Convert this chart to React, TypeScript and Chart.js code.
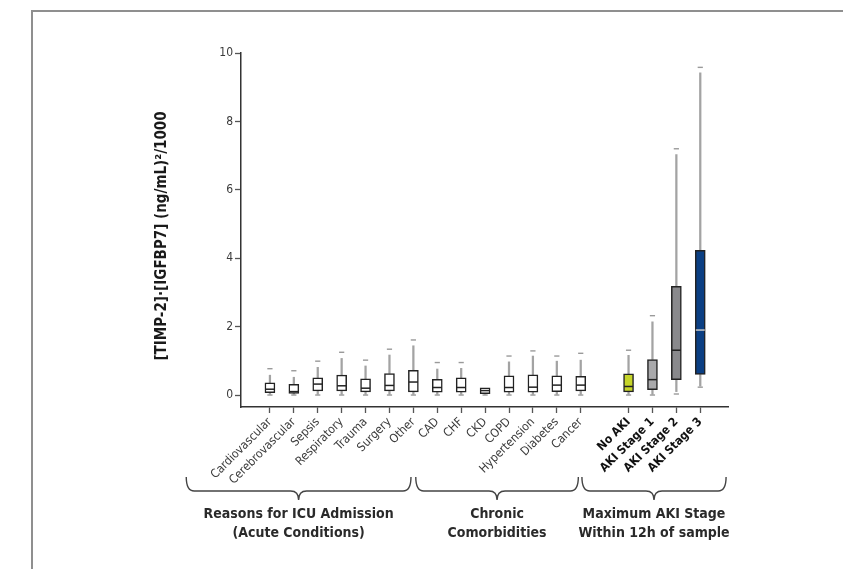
import React, { useRef, useEffect } from 'react';
import Chart from 'chart.js/auto';

// categories along the x axis, split into the three groups
const acuteConditions = ['Cardiovascular', 'Cerebrovascular', 'Sepsis', 'Respiratory', 'Trauma', 'Surgery', 'Other'];
const comorbidities = ['CAD', 'CHF', 'CKD', 'COPD', 'Hypertension', 'Diabetes', 'Cancer'];
const akiStages = ['No AKI', 'AKI Stage 1', 'AKI Stage 2', 'AKI Stage 3'];

// box statistics, one value per category (acute, comorbidity, AKI)
const q1 = [0.07, 0.05, 0.12, 0.12, 0.09, 0.12, 0.09, 0.08, 0.08, 0.04, 0.08, 0.08, 0.1, 0.12, 0.09, 0.16, 0.45, 0.6];
const median = [0.17, 0.1, 0.32, 0.27, 0.2, 0.28, 0.38, 0.22, 0.22, 0.13, 0.22, 0.23, 0.29, 0.29, 0.25, 0.45, 1.31, 1.9];
const q3 = [0.36, 0.31, 0.5, 0.58, 0.47, 0.63, 0.72, 0.46, 0.5, 0.21, 0.56, 0.59, 0.56, 0.55, 0.62, 1.04, 3.18, 4.23];
const whiskerHigh = [0.58, 0.52, 0.81, 1.07, 0.85, 1.17, 1.44, 0.76, 0.78, null, 0.97, 1.14, 0.99, 1.02, 1.16, 2.14, 7.03, 9.42];
const capHigh = [0.77, 0.71, 0.99, 1.25, 1.02, 1.34, 1.61, 0.95, 0.95, null, 1.14, 1.29, 1.14, 1.22, 1.31, 2.32, 7.2, 9.58];
const whiskerLow = [0.02, 0.02, 0.02, 0.02, 0.02, 0.02, 0.02, 0.02, 0.02, 0.02, 0.02, 0.02, 0.02, 0.02, 0.02, 0.02, 0.1, 0.26];
const capLow = [0, 0, 0, 0, 0, 0, 0, 0, 0, 0, 0, 0, 0, 0, 0, 0, 0.03, 0.23];

const yTicks = [0, 2, 4, 6, 8, 10];
const yTitle = '[TIMP-2]·[IGFBP7] (ng/mL)²/1000';
const groupTitles = [
  ['Reasons for ICU Admission', '(Acute Conditions)'],
  ['Chronic', 'Comorbidities'],
  ['Maximum AKI Stage', 'Within 12h of sample'],
];

const FONT = "'Liberation Sans Narrow', 'DejaVu Sans Condensed', 'Roboto', sans-serif";

const labels = [...acuteConditions, ...comorbidities, ...akiStages];
// one empty slot between the comorbidities and the AKI stages
const xPos = labels.map((_, i) => (i < 14 ? i : i + 1));
const akiStart = 15;

const boxFill = [...Array(14).fill('#ffffff'), '#c6d52a', '#a9a9ab', '#89898c', '#0b3f83'];
const medianColor = [...Array(17).fill('#222222'), '#c8c8c8'];

// brace extents in x-axis units
const braces: [number, number][] = [
  [-3.5, 5.9],
  [6.1, 12.9],
  [13.05, 19.08],
];

const overlay = {
  id: 'overlay',
  afterDraw(chart: Chart) {
    const { ctx, chartArea, scales } = chart;
    const x = scales.x;
    const b = chartArea.bottom;
    ctx.save();
    // y-axis title
    ctx.translate(162, 236);
    ctx.rotate(-Math.PI / 2);
    ctx.fillStyle = '#1a1a1a';
    ctx.font = `bold 15px ${FONT}`;
    ctx.textAlign = 'center';
    ctx.textBaseline = 'middle';
    ctx.fillText(yTitle, 0, 0);
    ctx.restore();

    ctx.save();
    ctx.strokeStyle = '#444';
    ctx.lineWidth = 1.4;
    braces.forEach(([s, e], gi) => {
      const x1 = x.getPixelForValue(s);
      const x2 = x.getPixelForValue(e);
      const cx = (x1 + x2) / 2;
      const top = b + 70;
      const mid = b + 84;
      const tip = b + 93;
      const r = 8;
      ctx.beginPath();
      ctx.moveTo(x1, top);
      ctx.quadraticCurveTo(x1, mid, x1 + r, mid);
      ctx.lineTo(cx - r, mid);
      ctx.quadraticCurveTo(cx, mid, cx, tip);
      ctx.quadraticCurveTo(cx, mid, cx + r, mid);
      ctx.lineTo(x2 - r, mid);
      ctx.quadraticCurveTo(x2, mid, x2, top);
      ctx.stroke();

      ctx.fillStyle = '#2a2a2a';
      ctx.font = `bold 14px ${FONT}`;
      ctx.textAlign = 'center';
      ctx.textBaseline = 'middle';
      ctx.fillText(groupTitles[gi][0], cx, b + 107);
      ctx.fillText(groupTitles[gi][1], cx, b + 126);
    });
    ctx.restore();
  },
};

const App: React.FC = () => {
  const chartRef = useRef<HTMLCanvasElement>(null);
  const chartInstanceRef = useRef<Chart | null>(null);

  useEffect(() => {
    if (!chartRef.current) return;
    const ctx = chartRef.current.getContext('2d');
    if (!ctx) return;
    if (chartInstanceRef.current) chartInstanceRef.current.destroy();

    const pts = (vals: (number | null)[]) =>
      vals.map((v, i) => (v === null ? null : { x: xPos[i], y: v })).filter((p) => p !== null);
    const ranges = (lo: (number | null)[], hi: (number | null)[]) =>
      lo.map((v, i) => (v === null || hi[i] === null ? null : { x: xPos[i], y: [v, hi[i]] })).filter((p) => p !== null);

    chartInstanceRef.current = new Chart(ctx, {
      type: 'bar',
      data: {
        datasets: [
          {
            type: 'bar',
            data: ranges(q3, whiskerHigh) as any,
            backgroundColor: '#a3a3a3',
            borderWidth: 0,
            barThickness: 1.6,
            grouped: false,
            order: 4,
          },
          {
            type: 'bar',
            data: ranges(whiskerLow, q1) as any,
            backgroundColor: '#a3a3a3',
            borderWidth: 0,
            barThickness: 1.6,
            grouped: false,
            order: 4,
          },
          {
            type: 'bar',
            data: ranges(q1, q3) as any,
            backgroundColor: boxFill,
            borderColor: '#222',
            borderWidth: 1.5,
            borderSkipped: false,
            barThickness: 10,
            grouped: false,
            order: 3,
          },
          {
            type: 'scatter',
            data: pts(median) as any,
            pointStyle: 'line',
            pointRadius: 4.5,
            pointBorderColor: medianColor,
            pointBorderWidth: 1.5,
            order: 1,
          },
          {
            type: 'scatter',
            data: [...pts(capHigh), ...pts(capLow)] as any,
            pointStyle: 'line',
            pointRadius: 2.6,
            pointBorderColor: '#9a9a9a',
            pointBorderWidth: 1.4,
            order: 2,
          },
        ],
      },
      options: {
        animation: false,
        responsive: true,
        maintainAspectRatio: false,
        layout: { padding: { left: 0, top: 53, right: 115, bottom: 0 } },
        plugins: { legend: { display: false }, tooltip: { enabled: false } },
        scales: {
          x: {
            type: 'linear',
            min: -1.21,
            max: 19.16,
            offset: false,
            afterBuildTicks: (s: any) => {
              s.ticks = xPos.map((v) => ({ value: v }));
            },
            afterFit: (s: any) => {
              s.height = 162;
            },
            grid: { drawOnChartArea: false, drawTicks: true, tickLength: 6, tickColor: '#555', tickWidth: 1.3, offset: false },
            border: { color: '#333', width: 1.5 },
            ticks: {
              autoSkip: false,
              minRotation: 45,
              maxRotation: 45,
              padding: 2,
              callback: (v: any) => {
                const i = xPos.indexOf(Number(v));
                return i >= 0 ? labels[i] : '';
              },
              color: (c: any) => (c.tick && c.tick.value >= akiStart ? '#111' : '#3a3a3a'),
              font: (c: any) => ({
                family: FONT,
                size: 12,
                weight: c.tick && c.tick.value >= akiStart ? 'bold' : 'normal',
              }),
            },
          },
          y: {
            min: -0.35,
            max: 10,
            afterBuildTicks: (s: any) => {
              s.ticks = yTicks.map((v) => ({ value: v }));
            },
            afterFit: (s: any) => {
              s.width = 241;
            },
            grid: { drawOnChartArea: false, drawTicks: true, tickLength: 6, tickColor: '#555', tickWidth: 1.3 },
            border: { color: '#333', width: 1.5 },
            ticks: {
              padding: 2,
              color: '#3a3a3a',
              font: { family: FONT, size: 12 },
            },
          },
        },
      },
      plugins: [overlay],
    });

    return () => {
      if (chartInstanceRef.current) {
        chartInstanceRef.current.destroy();
        chartInstanceRef.current = null;
      }
    };
  }, []);

  return (
    <div style={{ position: 'fixed', left: 0, top: 0, width: 843, height: 569, background: '#fff', overflow: 'hidden' }}>
      <div
        style={{
          position: 'absolute',
          left: 31,
          top: 10,
          width: 900,
          height: 700,
          borderTop: '2.5px solid #8f8f8f',
          borderLeft: '2.5px solid #8f8f8f',
        }}
      />
      <div style={{ position: 'absolute', left: 0, top: 0, width: 843, height: 569 }}>
        <canvas ref={chartRef} />
      </div>
    </div>
  );
};

export default App;
